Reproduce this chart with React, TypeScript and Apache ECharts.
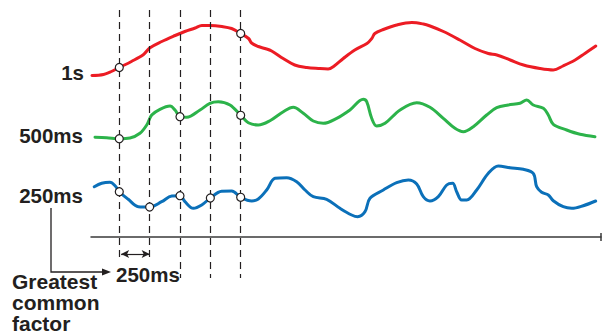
import React, { useEffect, useRef } from "react";
import * as echarts from "echarts";

// time in ms (0 = first sampling instant), level in arbitrary units above the time axis
const signal1s: [number, number][] = [
  [-225, 161.5], [-130, 162.5], [-65, 165.5], [0, 169.5], [100, 175.5], [200, 182.5], [250, 189],
  [350, 195.5], [460, 201.5], [540, 205.5], [625, 209], [680, 211.5], [750, 211.5], [845, 210.5],
  [925, 208.5], [1000, 203.5], [1065, 198.5], [1090, 194], [1145, 190.5], [1200, 188.5], [1255, 186],
  [1350, 178.5], [1445, 172], [1545, 169.5], [1640, 168.5], [1720, 168], [1765, 170.5], [1845, 178.5],
  [1940, 187], [2040, 193.5], [2080, 198.5], [2105, 203.5], [2175, 207.5], [2285, 212], [2410, 214.5],
  [2505, 213], [2560, 211], [2670, 205.5], [2805, 197], [2930, 188.5], [3040, 183.5], [3110, 182],
  [3220, 177], [3330, 172], [3465, 168.5], [3575, 167], [3655, 171], [3755, 177], [3835, 183.5],
  [3925, 191],
];

const signal500ms: [number, number][] = [
  [-200, 99.7], [-104, 99.3], [0, 98.3], [88, 99], [170, 103.7], [226, 112], [267, 122], [335, 127.7],
  [418, 131], [459, 127], [500, 120.3], [555, 119.7], [665, 127], [747, 133.7], [815, 135.3],
  [912, 132], [1000, 121.7], [1063, 114.3], [1145, 112], [1241, 116.3], [1351, 125.3], [1433, 129.7],
  [1516, 123.7], [1598, 116], [1680, 113.7], [1791, 118.7], [1900, 127], [2010, 137.7], [2038, 135.3],
  [2079, 118.7], [2120, 111], [2189, 113.7], [2313, 127], [2450, 134.3], [2559, 129.7], [2669, 118.7],
  [2765, 108.7], [2834, 105.3], [2916, 110.3], [3026, 122], [3109, 129.3], [3204, 132], [3301, 133.7],
  [3356, 137], [3410, 132], [3493, 128.7], [3534, 122], [3575, 112.7], [3685, 107], [3795, 102.7],
  [3918, 100.3],
];

const signal250ms: [number, number][] = [
  [-206, 50.3], [-145, 53.7], [-77, 54.7], [-35, 51.3], [0, 45.3], [74, 37.7], [157, 30.3], [250, 30],
  [349, 35.3], [432, 41], [500, 41.3], [541, 35.3], [610, 28.7], [679, 32], [750, 39], [843, 45.7],
  [926, 46], [1000, 39.7], [1091, 36], [1145, 38], [1214, 47], [1283, 58.7], [1379, 59.3], [1461, 55.3],
  [1530, 47], [1598, 40.3], [1708, 37.7], [1818, 28.7], [1914, 22], [1964, 20.3], [2024, 25.3],
  [2065, 38.7], [2175, 47], [2285, 54.3], [2381, 57], [2450, 53], [2504, 40.3], [2559, 36], [2628, 40.3],
  [2697, 52], [2746, 53.7], [2779, 45.3], [2820, 37], [2862, 37], [2944, 47], [3040, 63.7], [3122, 71],
  [3218, 69.3], [3328, 67.7], [3410, 63.7], [3438, 50.3], [3479, 44.7], [3534, 42], [3575, 36.3],
  [3657, 30.3], [3727, 28.7], [3822, 31.3], [3924, 36],
];

// sampling instants (ms) and the sampled levels
const samples1s: [number, number][] = [[0, 169.5], [1000, 203.5]];
const samples500ms: [number, number][] = [[0, 98.3], [500, 120.3], [1000, 121.7]];
const samples250ms: [number, number][] = [[0, 45.3], [250, 30], [500, 41.3], [750, 39], [1000, 39.7]];

const gridLines = [0, 250, 500, 750, 1000];
const gridLineEnds = [-25, -25, -41, -41, -41];
const gcfSpan: [number, number] = [0, 250];

const seriesLabels = ["1s", "500ms", "250ms"];
const gcfLabel = "250ms";
const gcfCaption = "Greatest\ncommon\nfactor";

const RED = "#ec1c24";
const GREEN = "#2cb34a";
const BLUE = "#0b70b9";
const INK = "#231f20";
const FONT = "'Liberation Sans', Arial, sans-serif";

export default function App() {
  const ref = useRef<HTMLDivElement>(null);

  useEffect(() => {
    if (!ref.current) return;
    const chart = echarts.init(ref.current, undefined, { renderer: "svg" });

    const lineSeries = (name: string, data: [number, number][], color: string) => ({
      type: "line",
      name,
      data,
      smooth: 0.35,
      showSymbol: false,
      silent: true,
      z: 3,
      lineStyle: { color, width: 3, cap: "round", join: "round" },
    });

    const textStyle = { fontFamily: FONT, fontWeight: "bold", fontSize: 20.5, fill: INK };

    chart.setOption({
      animation: false,
      grid: { left: 91, right: 1, top: 10, bottom: 58 },
      xAxis: {
        type: "value",
        min: -233,
        max: 3968,
        axisLine: {
          show: true,
          onZero: true,
          symbol: ["none", "rect"],
          symbolSize: [8, 1.5],
          lineStyle: { color: "#3a3a3a", width: 1.5 },
        },
        axisTick: { show: false },
        axisLabel: { show: false },
        splitLine: { show: false },
      },
      yAxis: {
        type: "value",
        min: -41,
        max: 227,
        show: false,
        splitLine: { show: false },
      },
      series: [
        {
          type: "line",
          data: [],
          silent: true,
          z: 1,
          markLine: {
            silent: true,
            symbol: ["none", "none"],
            label: { show: false },
            lineStyle: { color: INK, width: 1.2, type: [7, 5] },
            data: gridLines.map((t, i) => [
              { coord: [t, 227] },
              { coord: [t, gridLineEnds[i]] },
            ]),
          },
        },
        {
          type: "line",
          data: [],
          silent: true,
          z: 1,
          markLine: {
            silent: true,
            symbol: ["arrow", "arrow"],
            symbolSize: [6, 8],
            label: { show: false },
            lineStyle: { color: INK, width: 1.2, type: "solid" },
            data: [[{ coord: [gcfSpan[0] + 15, -17] }, { coord: [gcfSpan[1], -17] }]],
          },
        },
        lineSeries("1s", signal1s, RED),
        lineSeries("500ms", signal500ms, GREEN),
        lineSeries("250ms", signal250ms, BLUE),
        {
          type: "scatter",
          data: [...samples1s, ...samples500ms, ...samples250ms],
          symbol: "circle",
          symbolSize: 8,
          silent: true,
          z: 5,
          itemStyle: { color: "#ffffff", borderColor: INK, borderWidth: 1.2, opacity: 1 },
        },
      ],
      graphic: [
        { type: "text", x: 84, y: 72, style: { ...textStyle, text: seriesLabels[0], align: "right", verticalAlign: "middle" } },
        { type: "text", x: 83, y: 135, style: { ...textStyle, text: seriesLabels[1], align: "right", verticalAlign: "middle" } },
        { type: "text", x: 83, y: 195, style: { ...textStyle, text: seriesLabels[2], align: "right", verticalAlign: "middle" } },
        { type: "text", x: 116, y: 274, style: { ...textStyle, text: gcfLabel, align: "left", verticalAlign: "middle" } },
        {
          type: "text",
          x: 12,
          y: 271,
          style: { ...textStyle, fontSize: 21, text: gcfCaption, align: "left", verticalAlign: "top", lineHeight: 21 },
        },
        {
          type: "polyline",
          shape: { points: [[51, 208], [51, 272], [104, 272]] },
          style: { stroke: INK, lineWidth: 1.3, fill: "none" },
        },
        {
          type: "polygon",
          shape: { points: [[102, 268.5], [111, 272], [102, 275.5]] },
          style: { fill: INK },
        },
      ],
    });

    return () => chart.dispose();
  }, []);

  return <div ref={ref} style={{ position: "absolute", left: 0, top: 0, width: 602, height: 336 }} />;
}
